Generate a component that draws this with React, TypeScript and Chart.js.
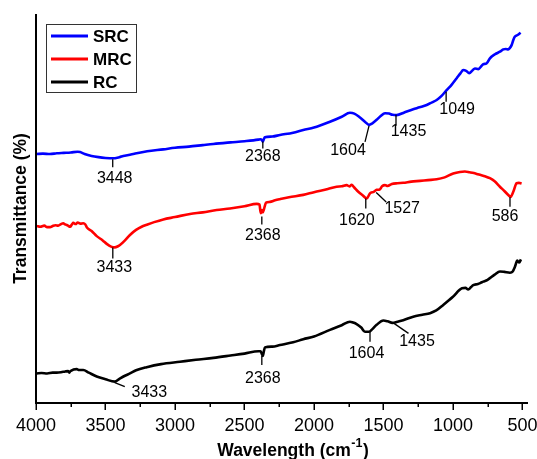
import { useEffect, useRef } from "react";
import { Chart, registerables } from "chart.js";

Chart.register(...registerables);

// Axis ticks (wavenumber, cm-1)
const MAJOR_TICKS = [4000, 3500, 3000, 2500, 2000, 1500, 1000, 500];
const MINOR_TICKS = [3750, 3250, 2750, 2250, 1750, 1250, 750];

// SRC spectrum (offset transmittance, arbitrary units)
const SRC_WN = [
  3995, 3950, 3900, 3850, 3800, 3750, 3700, 3683, 3650, 3600, 3550, 3500, 3448, 3400, 3372, 3300, 3200, 3084,
  3000, 2900, 2800, 2724, 2600, 2500, 2400, 2385, 2375, 2368, 2360, 2353, 2300, 2245, 2150, 2077, 2000, 1885,
  1800, 1741, 1710, 1669, 1630, 1604, 1580, 1549, 1520, 1489, 1460, 1435, 1405, 1350, 1286, 1240, 1189, 1150,
  1117, 1080, 1049, 1010, 973, 945, 926, 905, 883, 860, 842, 818, 800, 782, 758, 734, 700, 662, 638, 620, 602,
  590, 578, 565, 554, 535, 513,
];
const SRC_T = [
  64.0, 64.1, 64.0, 64.2, 64.3, 64.4, 64.6, 64.5, 64.0, 63.5, 63.2, 63.0, 62.9, 63.2, 63.5, 64.0, 64.7, 65.2,
  65.6, 65.9, 66.3, 66.6, 67.0, 67.3, 67.7, 67.8, 67.6, 67.2, 67.9, 68.3, 68.5, 68.9, 69.5, 70.2, 70.8, 72.3,
  73.6, 74.6, 74.4, 73.4, 72.2, 71.5, 71.9, 72.8, 73.8, 74.5, 74.4, 74.1, 74.0, 74.7, 75.5, 76.0, 76.6, 77.3,
  77.9, 79.0, 80.3, 81.8, 83.5, 84.8, 85.6, 85.4, 84.8, 85.5, 86.0, 85.8, 86.4, 87.1, 87.3, 88.6, 89.6, 90.3,
  90.9, 91.0, 90.9, 91.3, 92.0, 93.4, 94.2, 94.6, 95.2,
];

// MRC spectrum
const MRC_WN = [
  3995, 3970, 3940, 3920, 3899, 3880, 3860, 3840, 3820, 3804, 3790, 3770, 3755, 3740, 3732, 3715, 3700, 3680,
  3660, 3645, 3635, 3600, 3563, 3520, 3491, 3460, 3433, 3410, 3396, 3360, 3324, 3280, 3240, 3204, 3150, 3084,
  3000, 2892, 2800, 2700, 2604, 2500, 2412, 2392, 2383, 2375, 2368, 2360, 2345, 2317, 2280, 2245, 2180, 2077,
  2000, 1900, 1837, 1800, 1765, 1745, 1729, 1710, 1681, 1650, 1620, 1597, 1570, 1549, 1527, 1510, 1489, 1470,
  1440, 1400, 1358, 1300, 1237, 1180, 1117, 1060, 998, 950, 914, 880, 850, 829, 800, 770, 734, 700, 662, 630,
  600, 586, 566, 542, 525, 506,
];
const MRC_T = [
  45.5, 45.3, 45.6, 45.2, 45.2, 45.5, 45.7, 45.6, 46.0, 46.2, 45.9, 45.6, 45.3, 46.0, 46.3, 46.0, 46.4, 46.1,
  46.2, 45.9, 45.2, 44.2, 42.9, 41.8, 40.9, 40.2, 40.0, 40.3, 40.6, 41.8, 43.2, 44.5, 45.3, 45.8, 46.5, 47.2,
  47.8, 48.6, 49.0, 49.6, 50.0, 50.6, 51.2, 51.0, 48.8, 49.6, 49.0, 49.8, 51.5, 51.7, 52.1, 52.4, 52.9, 53.5,
  54.2, 55.0, 55.6, 55.7, 56.0, 55.7, 56.1, 55.4, 54.3, 53.4, 52.6, 53.9, 54.3, 54.8, 54.9, 55.7, 56.0, 55.8,
  56.3, 56.5, 56.6, 56.9, 57.1, 57.3, 57.5, 58.0, 59.0, 59.4, 59.5, 59.3, 59.1, 58.9, 58.6, 58.3, 57.8, 57.0,
  55.6, 54.5, 53.4, 53.0, 54.3, 56.5, 56.6, 56.4,
];

// RC spectrum
const RC_WN = [
  3995, 3960, 3920, 3880, 3851, 3820, 3790, 3770, 3760, 3755, 3730, 3707, 3690, 3660, 3620, 3563, 3500, 3433,
  3400, 3360, 3324, 3280, 3204, 3100, 2964, 2850, 2724, 2600, 2500, 2400, 2385, 2375, 2368, 2360, 2353, 2300,
  2245, 2150, 2077, 2000, 1885, 1800, 1741, 1720, 1693, 1660, 1633, 1604, 1580, 1549, 1501, 1470, 1435, 1400,
  1358, 1286, 1220, 1165, 1120, 1070, 1000, 935, 910, 890, 870, 854, 820, 800, 782, 760, 746, 700, 662, 630,
  590, 570, 554, 537, 523, 511,
];
const RC_T = [
  7.6, 7.7, 7.6, 7.8, 7.8, 7.9, 8.1, 8.2, 7.8, 8.1, 8.6, 8.7, 8.5, 8.5, 7.8, 6.8, 6.1, 5.5,
  6.2, 7.0, 7.6, 8.4, 9.2, 10.0, 10.6, 11.1, 11.6, 12.2, 12.7, 13.3, 13.3, 12.6, 12.1, 13.4, 14.3, 14.5,
  14.9, 15.6, 16.4, 17.1, 18.8, 20.0, 20.9, 20.7, 20.3, 19.4, 18.3, 18.3, 19.0, 20.1, 21.2, 21.0, 20.6, 20.9,
  21.3, 22.2, 22.7, 23.1, 23.8, 25.2, 27.3, 29.5, 29.6, 29.2, 29.8, 30.3, 30.6, 30.9, 31.2, 31.5, 31.8, 33.0,
  33.8, 33.7, 33.5, 33.8, 35.0, 36.6, 36.1, 36.9,
];

// Labelled absorption bands
const SRC_PEAKS = [3448, 2368, 1604, 1435, 1049];
const MRC_PEAKS = [3433, 2368, 1620, 1527, 586];
const RC_PEAKS = [3433, 2368, 1604, 1435];

const SERIES_NAMES = ["SRC", "MRC", "RC"];
const SERIES_COLORS = ["#0000ff", "#ff0000", "#000000"];

// Leader-line and label placement for each band: [lx0, ly0, lx1, ly1, tx, ty] relative to the band point
const SRC_PEAK_LAYOUT = [
  [0, 1, 0, 9, 2, 20],
  [0, 0, 0, 7, 0, 15],
  [0, 1, -4, 17, -21, 25.5],
  [3.5, 0, 3.5, 11, 16, 17],
  [0, 1, 0, 11, 11, 18.5],
];
const MRC_PEAK_LAYOUT = [
  [-2, 0, -2, 11, -0.5, 20],
  [-1, 4, -1, 12, 0, 23.5],
  [-1, 0, -1, 10, -10, 22.5],
  [-3.5, 3, 6.5, 12.5, 22.5, 19],
  [-0.5, 0.5, -0.5, 10, -5.5, 19.5],
];
const RC_PEAK_LAYOUT = [
  [0, 1, 10, 5, 34.5, 11],
  [-1, 0, -1, 9, 0, 22.5],
  [1, 0, 1, 10, -2.5, 22],
  [1.5, 0.5, 16, 10.5, 24.5, 19],
];

const FONT = '"Liberation Sans", Arial, Helvetica, sans-serif';

function toPoints(wn: number[], t: number[]) {
  return wn.map((x, i) => ({ x, y: t[i] }));
}

const spectrumDecor = {
  id: "spectrumDecor",
  afterDraw(chart: any) {
    const ctx: CanvasRenderingContext2D = chart.ctx;
    const xs = chart.scales.x;
    const ys = chart.scales.y;
    const { left, right, top, bottom } = chart.chartArea;
    ctx.save();

    // axis lines
    ctx.strokeStyle = "#000";
    ctx.lineWidth = 2;
    ctx.lineJoin = "miter";
    ctx.beginPath();
    ctx.moveTo(left, top);
    ctx.lineTo(left, bottom);
    ctx.lineTo(right, bottom);
    ctx.stroke();

    // ticks
    ctx.lineWidth = 1.5;
    ctx.beginPath();
    MAJOR_TICKS.forEach((v) => {
      const x = Math.round(xs.getPixelForValue(v)) + 0.25;
      ctx.moveTo(x, bottom);
      ctx.lineTo(x, bottom + 7);
    });
    MINOR_TICKS.forEach((v) => {
      const x = Math.round(xs.getPixelForValue(v)) + 0.25;
      ctx.moveTo(x, bottom);
      ctx.lineTo(x, bottom + 4);
    });
    ctx.stroke();

    // tick labels
    ctx.fillStyle = "#000";
    ctx.font = `18px ${FONT}`;
    ctx.textAlign = "center";
    ctx.textBaseline = "alphabetic";
    MAJOR_TICKS.forEach((v) => {
      ctx.fillText(String(v), xs.getPixelForValue(v), bottom + 28);
    });

    // x title with superscript
    const main = "Wavelength (cm";
    const sup = "-1";
    const close = ")";
    ctx.font = `bold 17.5px ${FONT}`;
    const wMain = ctx.measureText(main).width;
    const wClose = ctx.measureText(close).width;
    ctx.font = `bold 12.5px ${FONT}`;
    const wSup = ctx.measureText(sup).width;
    const total = wMain + wSup + wClose + 1;
    const x0 = 293 - total / 2;
    ctx.textAlign = "left";
    ctx.font = `bold 17.5px ${FONT}`;
    ctx.fillText(main, x0, 456);
    ctx.font = `bold 12.5px ${FONT}`;
    ctx.fillText(sup, x0 + wMain + 0.5, 447);
    ctx.font = `bold 17.5px ${FONT}`;
    ctx.fillText(close, x0 + wMain + wSup + 1, 456);

    // y title
    ctx.save();
    ctx.translate(26, (top + bottom) / 2);
    ctx.rotate(-Math.PI / 2);
    ctx.textAlign = "center";
    ctx.textBaseline = "alphabetic";
    ctx.font = `bold 17.5px ${FONT}`;
    ctx.fillText("Transmittance (%)", 0, 0);
    ctx.restore();

    // band annotations
    const groups: [number[], number[], number[], number[][]][] = [
      [SRC_WN, SRC_T, SRC_PEAKS, SRC_PEAK_LAYOUT],
      [MRC_WN, MRC_T, MRC_PEAKS, MRC_PEAK_LAYOUT],
      [RC_WN, RC_T, RC_PEAKS, RC_PEAK_LAYOUT],
    ];
    ctx.font = `16px ${FONT}`;
    ctx.textAlign = "center";
    ctx.textBaseline = "middle";
    ctx.strokeStyle = "#000";
    ctx.lineWidth = 1.3;
    groups.forEach(([wn, t, peaks, layout]) => {
      peaks.forEach((p, i) => {
        const idx = wn.indexOf(p);
        const px = xs.getPixelForValue(p);
        const py = ys.getPixelForValue(t[idx]);
        const [lx0, ly0, lx1, ly1, tx, ty] = layout[i];
        ctx.beginPath();
        ctx.moveTo(px + lx0, py + ly0);
        ctx.lineTo(px + lx1, py + ly1);
        ctx.stroke();
        ctx.fillText(String(p), px + tx, py + ty);
      });
    });

    // legend
    ctx.lineWidth = 1;
    ctx.strokeStyle = "#333";
    ctx.strokeRect(46.5, 24.5, 90, 68);
    ctx.font = `bold 17px ${FONT}`;
    ctx.textAlign = "left";
    ctx.textBaseline = "middle";
    SERIES_NAMES.forEach((name, i) => {
      const y = 36 + i * 23;
      ctx.strokeStyle = SERIES_COLORS[i];
      ctx.lineWidth = 3;
      ctx.beginPath();
      ctx.moveTo(51, y);
      ctx.lineTo(88, y);
      ctx.stroke();
      ctx.fillStyle = "#000";
      ctx.fillText(name, 93, y + 1);
    });

    ctx.restore();
  },
};

export default function App() {
  const canvasRef = useRef<HTMLCanvasElement | null>(null);

  useEffect(() => {
    if (!canvasRef.current) return;
    const series = [
      toPoints(SRC_WN, SRC_T),
      toPoints(MRC_WN, MRC_T),
      toPoints(RC_WN, RC_T),
    ];
    const chart = new Chart(canvasRef.current, {
      type: "line",
      data: {
        datasets: series.map((pts, i) => ({
          label: SERIES_NAMES[i],
          data: pts,
          borderColor: SERIES_COLORS[i],
          backgroundColor: SERIES_COLORS[i],
          borderWidth: 2.6,
          pointRadius: 0,
          cubicInterpolationMode: "monotone" as const,
          fill: false,
        })),
      },
      options: {
        responsive: false,
        animation: false,
        devicePixelRatio: 1,
        layout: { padding: { left: 36, right: 9, top: 14, bottom: 56 } },
        plugins: { legend: { display: false }, tooltip: { enabled: false } },
        scales: {
          x: { type: "linear", reverse: true, min: 460, max: 4000, display: false },
          y: { type: "linear", min: 0, max: 100, display: false },
        },
      },
      plugins: [spectrumDecor],
    });
    return () => chart.destroy();
  }, []);

  return (
    <div style={{ position: "absolute", left: 0, top: 0, width: 537, height: 459, background: "#fff" }}>
      <canvas ref={canvasRef} width={537} height={459} style={{ display: "block" }} />
    </div>
  );
}
